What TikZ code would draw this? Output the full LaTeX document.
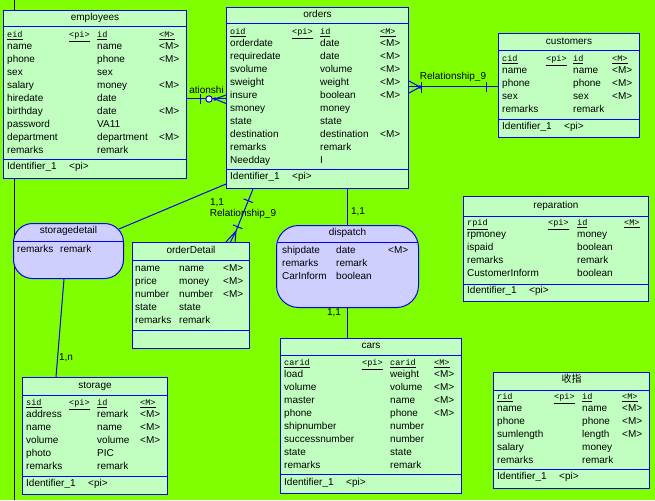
\documentclass[tikz,border=0pt]{standalone}
\usepackage{fontspec}
\setmainfont{Liberation Sans}
\newfontfamily\keyfont{Liberation Mono}
\newfontfamily\cjk{Noto Sans CJK SC}
\usetikzlibrary{calc}
\definecolor{bg}{RGB}{128,255,0}
\definecolor{ent}{RGB}{192,255,192}
\definecolor{assoc}{RGB}{206,206,255}
\definecolor{ln}{RGB}{0,0,255}

\begin{document}
\begin{tikzpicture}[x=1pt,y=-1pt,
		box/.style={draw=ln,fill=ent,line width=1pt,anchor=north west,inner sep=0pt},
		assocbox/.style={draw=ln,fill=assoc,line width=1pt,anchor=north west,inner sep=0pt,rounded corners=#1},
		cell/.style={anchor=west,inner sep=0pt,text height=7.2pt,text depth=2pt,font=\fontsize{10}{12}\selectfont},
		title/.style={cell,anchor=center},
		key/.style={cell,font=\fontsize{8.5}{10}\keyfont},
		link/.style={draw=ln,line width=1pt},
		lbl/.style={anchor=center,inner sep=0pt,font=\fontsize{10}{12}\selectfont}]
			\useasboundingbox (0,0) rectangle (655,500);
			\fill[bg] (0,0) rectangle (655,500);
			\draw[line width=1pt] (14,0) -- (14,500);
			
			% employees
			\node[box,minimum width=183pt,minimum height=168pt] (employees) at (3,10) {};
			\node[title] (employees-t) at (employees.north |- 0,18) {employees};
			\draw[link] (employees.west |- 0,27) -- (employees.east |- 0,27);
			\draw[link] (employees.west |- 0,159) -- (employees.east |- 0,159);
			\node[key] (emp-k1) at (7,35) {\underline{eid}};
			\node[key] (emp-k2) at (69,35) {\underline{<pi>}};
			\node[key] (emp-k3) at (97,35) {\underline{id}};
			\node[key] (emp-k4) at (159,35) {\underline{<M>}};
			\foreach \a/\b/\c [count=\i] in {name/name/<M>,phone/phone/<M>,sex/sex/{},salary/money/<M>,hiredate/date/{},birthday/date/<M>,password/VA11/{},department/department/<M>,remarks/remark/{}}{
				\node[cell] (emp-a\i) at (7,34+13*\i) {\a};
				\node[cell] (emp-b\i) at (97,34+13*\i) {\b};
				\node[cell] (emp-c\i) at (159,34+13*\i) {\c};
			}
			\node[cell] (emp-id) at (7,167) {Identifier\_1};
			\node[cell] (emp-pi) at (69,167) {<pi>};
			
			% orders
			\node[box,minimum width=182pt,minimum height=181pt] (orders) at (226,7) {};
			\node[title] (orders-t) at (orders.north |- 0,15) {orders};
			\draw[link] (orders.west |- 0,24) -- (orders.east |- 0,24);
			\draw[link] (orders.west |- 0,169) -- (orders.east |- 0,169);
			\node[key] (ord-k1) at (230,32) {\underline{oid}};
			\node[key] (ord-k2) at (292,32) {\underline{<pi>}};
			\node[key] (ord-k3) at (320,32) {\underline{id}};
			\node[key] (ord-k4) at (380,32) {\underline{<M>}};
			\foreach \a/\b/\c [count=\i] in {orderdate/date/<M>,requiredate/date/<M>,svolume/volume/<M>,sweight/weight/<M>,insure/boolean/<M>,smoney/money/{},state/state/{},destination/destination/<M>,remarks/remark/{},Needday/I/{}}{
				\node[cell] (ord-a\i) at (230,30.7+13*\i) {\a};
				\node[cell] (ord-b\i) at (320,30.7+13*\i) {\b};
				\node[cell] (ord-c\i) at (380,30.7+13*\i) {\c};
			}
			\node[cell] (ord-id) at (230,177) {Identifier\_1};
			\node[cell] (ord-pi) at (292,177) {<pi>};
			
			% customers
			\node[box,minimum width=141pt,minimum height=104pt] (customers) at (498,33) {};
			\node[title] (customers-t) at (customers.north |- 0,42) {customers};
			\draw[link] (customers.west |- 0,51) -- (customers.east |- 0,51);
			\draw[link] (customers.west |- 0,119) -- (customers.east |- 0,119);
			\node[key] (cus-k1) at (502,59) {\underline{cid}};
			\node[key] (cus-k2) at (546,59) {\underline{<pi>}};
			\node[key] (cus-k3) at (573,59) {\underline{id}};
			\node[key] (cus-k4) at (612,59) {\underline{<M>}};
			\foreach \a/\b/\c [count=\i] in {name/name/<M>,phone/phone/<M>,sex/sex/<M>,remarks/remark/{}}{
				\node[cell] (cus-a\i) at (502,58+13*\i) {\a};
				\node[cell] (cus-b\i) at (573,58+13*\i) {\b};
				\node[cell] (cus-c\i) at (612,58+13*\i) {\c};
			}
			\node[cell] (cus-id) at (502,127) {Identifier\_1};
			\node[cell] (cus-pi) at (564,127) {<pi>};
			
			% reparation
			\node[box,minimum width=185pt,minimum height=105pt] (reparation) at (463,196) {};
			\node[title] (reparation-t) at (reparation.north |- 0,206) {reparation};
			\draw[link] (reparation.west |- 0,216) -- (reparation.east |- 0,216);
			\draw[link] (reparation.west |- 0,284) -- (reparation.east |- 0,284);
			\node[key] (rep-k1) at (467,223) {\underline{rpid}};
			\node[key] (rep-k2) at (548,223) {\underline{<pi>}};
			\node[key] (rep-k3) at (577,223) {\underline{id}};
			\node[key] (rep-k4) at (624,223) {\underline{<M>}};
			\foreach \a/\b [count=\i] in {rpmoney/money,ispaid/boolean,remarks/remark,CustomerInform/boolean}{
				\node[cell] (rep-a\i) at (467,222+13*\i) {\a};
				\node[cell] (rep-b\i) at (577,222+13*\i) {\b};
			}
			\node[cell] (rep-id) at (467,291) {Identifier\_1};
			\node[cell] (rep-pi) at (529,291) {<pi>};
			
			% orderDetail
			\node[box,minimum width=117pt,minimum height=106pt] (orderDetail) at (132,242) {};
			\node[title] (orderDetail-t) at (orderDetail.north |- 0,251) {orderDetail};
			\draw[link] (orderDetail.west |- 0,260) -- (orderDetail.east |- 0,260);
			\draw[link] (orderDetail.west |- 0,330) -- (orderDetail.east |- 0,330);
			\foreach \a/\b/\c [count=\i] in {name/name/<M>,price/money/<M>,number/number/<M>,state/state/{},remarks/remark/{}}{
				\node[cell] (od-a\i) at (135,256+13*\i) {\a};
				\node[cell] (od-b\i) at (179,256+13*\i) {\b};
				\node[cell] (od-c\i) at (223,256+13*\i) {\c};
			}
			
			% storage
			\node[box,minimum width=145pt,minimum height=117pt] (storage) at (22,377) {};
			\node[title] (storage-t) at (storage.north |- 0,386) {storage};
			\draw[link] (storage.west |- 0,395) -- (storage.east |- 0,395);
			\draw[link] (storage.west |- 0,476) -- (storage.east |- 0,476);
			\node[key] (sto-k1) at (26,403) {\underline{sid}};
			\node[key] (sto-k2) at (69,403) {\underline{<pi>}};
			\node[key] (sto-k3) at (97,403) {\underline{id}};
			\node[key] (sto-k4) at (140,403) {\underline{<M>}};
			\foreach \a/\b/\c [count=\i] in {address/remark/<M>,name/name/<M>,volume/volume/<M>,photo/PIC/{},remarks/remark/{}}{
				\node[cell] (sto-a\i) at (26,402+13*\i) {\a};
				\node[cell] (sto-b\i) at (97,402+13*\i) {\b};
				\node[cell] (sto-c\i) at (140,402+13*\i) {\c};
			}
			\node[cell] (sto-id) at (26,484) {Identifier\_1};
			\node[cell] (sto-pi) at (88,484) {<pi>};
			
			% cars
			\node[box,minimum width=181pt,minimum height=155pt] (cars) at (280,338) {};
			\node[title] (cars-t) at (cars.north |- 0,346) {cars};
			\draw[link] (cars.west |- 0,355) -- (cars.east |- 0,355);
			\draw[link] (cars.west |- 0,474) -- (cars.east |- 0,474);
			\node[key] (car-k1) at (284,363) {\underline{carid}};
			\node[key] (car-k2) at (362,363) {\underline{<pi>}};
			\node[key] (car-k3) at (390,363) {\underline{carid}};
			\node[key] (car-k4) at (434,363) {\underline{<M>}};
			\foreach \a/\b/\c [count=\i] in {load/weight/<M>,volume/volume/<M>,master/name/<M>,phone/phone/<M>,shipnumber/number/{},successnumber/number/{},state/state/{},remarks/remark/{}}{
				\node[cell] (car-a\i) at (284,362+13*\i) {\a};
				\node[cell] (car-b\i) at (390,362+13*\i) {\b};
				\node[cell] (car-c\i) at (434,362+13*\i) {\c};
			}
			\node[cell] (car-id) at (284,483) {Identifier\_1};
			\node[cell] (car-pi) at (346,483) {<pi>};
			
			% 收指
			\node[box,minimum width=156pt,minimum height=116pt] (shouzhi) at (493,372) {};
			\node[title] (shouzhi-t) at (shouzhi.north |- 0,380) {\cjk 收指};
			\draw[link] (shouzhi.west |- 0,390) -- (shouzhi.east |- 0,390);
			\draw[link] (shouzhi.west |- 0,469) -- (shouzhi.east |- 0,469);
			\node[key] (sz-k1) at (497,397) {\underline{rid}};
			\node[key] (sz-k2) at (554,397) {\underline{<pi>}};
			\node[key] (sz-k3) at (582,397) {\underline{id}};
			\node[key] (sz-k4) at (622,397) {\underline{<M>}};
			\foreach \a/\b/\c [count=\i] in {name/name/<M>,phone/phone/<M>,sumlength/length/<M>,salary/money/{},remarks/remark/{}}{
				\node[cell] (sz-a\i) at (497,396+13*\i) {\a};
				\node[cell] (sz-b\i) at (582,396+13*\i) {\b};
				\node[cell] (sz-c\i) at (622,396+13*\i) {\c};
			}
			\node[cell] (sz-id) at (497,477) {Identifier\_1};
			\node[cell] (sz-pi) at (559,477) {<pi>};
			
			% storagedetail
			\node[assocbox=19pt,minimum width=110pt,minimum height=55pt] (storagedetail) at (13,223) {};
			\node[title] (storagedetail-t) at (storagedetail.north |- 0,231) {storagedetail};
			\draw[link] (storagedetail.west |- 0,241) -- (storagedetail.east |- 0,241);
			\node[cell] (sd-a1) at (17,250) {remarks};
			\node[cell] (sd-b1) at (60,250) {remark};
			
			% dispatch
			\node[assocbox=22pt,minimum width=142pt,minimum height=82pt] (dispatch) at (276,225) {};
			\node[title] (dispatch-t) at (dispatch.north |- 0,233) {dispatch};
			\draw[link] ($(dispatch.west |- 0,242)+(1.5,0)$) -- ($(dispatch.east |- 0,242)+(-1.5,0)$);
			\foreach \a/\b/\c [count=\i] in {shipdate/date/<M>,remarks/remark/{},CarInform/boolean/{}}{
				\node[cell] (dis-a\i) at (282,238+13*\i) {\a};
				\node[cell] (dis-b\i) at (336,238+13*\i) {\b};
				\node[cell] (dis-c\i) at (388,238+13*\i) {\c};
			}
			
			% employees -- orders
			\coordinate (eo) at (0,99);
			\draw[link] (employees.east |- eo) -- (orders.west |- eo);
			\draw[link] (200,94) -- (200,104);
			\draw[link,fill=white] (209,99) circle (3.2);
			\fill[ln] (215,99) circle (1.8);
			\draw[link] (215,99) -- (orders.west |- 0,95);
			\draw[link] (215,99) -- (orders.west |- 0,103.5);
			\node[lbl] (rel1) at (206.5,90) {ationshi};
			
			% orders -- customers
			\coordinate (oc) at (0,87);
			\draw[link] (orders.east |- oc) -- (customers.west |- oc);
			\draw[link] (420,87) -- (orders.east |- 0,81);
			\draw[link] (420,87) -- (orders.east |- 0,93);
			\fill[ln] (420,87) circle (1.8);
			\draw[link] (421,82) -- (421,93);
			\draw[link] (486,82) -- (486,92);
			\node[lbl] (rel9a) at (453,77) {Relationship\_9};
			
			% orders -- orderDetail
			\coordinate (od-top) at (orders.south -| 253,0);
			\coordinate (od-crow) at (236,231);
			\draw[link] (od-top) -- (od-crow);
			\foreach \x in {226,230.5,235}
				\draw[link] (od-crow) -- (orderDetail.north -| \x,0);
			\coordinate (od-t1) at ($(od-top)!.28!(od-crow)$);
			\coordinate (od-t2) at ($(od-top)!.9!(od-crow)$);
			\draw[link] ($(od-t1)!5pt!90:(od-crow)$) -- ($(od-t1)!5pt!-90:(od-crow)$);
			\draw[link] ($(od-t2)!5pt!90:(od-crow)$) -- ($(od-t2)!5pt!-90:(od-crow)$);
			\node[lbl] (od-card) at (217,203) {1,1};
			\node[lbl] (rel9b) at (243,214) {Relationship\_9};
			
			% orders -- storagedetail -- storage
			\draw[link] (orders.west |- 0,184) -- ($(storagedetail.north east)+(-5,6)$);
			\draw[link] (storagedetail.south -| 64,0) -- (storage.north -| 56,0);
			\node[lbl] (sd-card) at (66,358) {1,n};
			
			% orders -- dispatch -- cars
			\draw[link] (dispatch.north) -- (dispatch.north |- orders.south);
			\node[lbl] (dis-card1) at (358,212) {1,1};
			\draw[link] (dispatch.south) -- (dispatch.south |- cars.north);
			\node[lbl] (dis-card2) at (334,313) {1,1};
		\end{tikzpicture}
\end{document}
